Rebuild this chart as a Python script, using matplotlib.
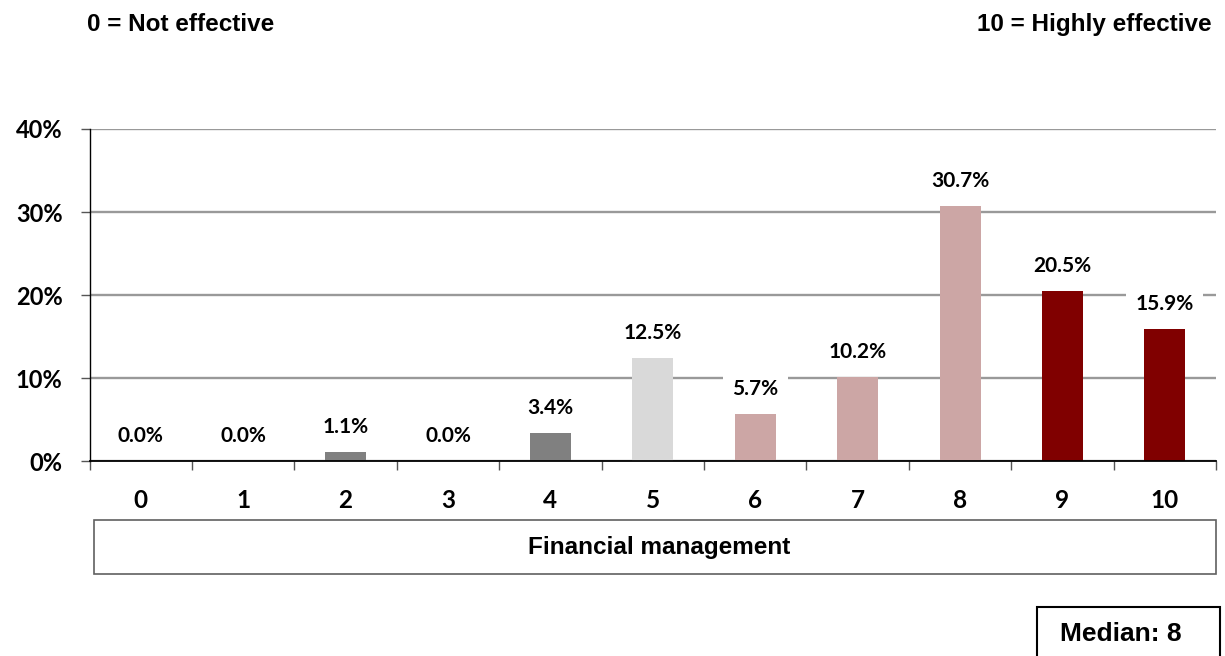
import matplotlib
matplotlib.use("Agg")
import matplotlib.pyplot as plt
from matplotlib.patches import Rectangle
import numpy as np

scores = ["0", "1", "2", "3", "4", "5", "6", "7", "8", "9", "10"]
shares = [0.0, 0.0, 1.1, 0.0, 3.4, 12.5, 5.7, 10.2, 30.7, 20.5, 15.9]
bar_colors = ["#808080"] * 5 + ["#D9D9D9"] + ["#CCA6A5"] * 3 + ["#800000"] * 2
y_ticks = [0, 10, 20, 30, 40]
group_label = "Financial management"
low_label = "0 = Not effective"
high_label = "10 = Highly effective"
median_text = "Median: 8"

num_font = "Lato"
txt_font = "Liberation Sans"

fig = plt.figure(figsize=(12.25, 6.56), dpi=100)
ax = fig.add_axes([0.0731, 0.2965, 0.9196, 0.5069])

x = np.arange(len(scores))
bars = ax.bar(x, shares, width=0.4, color=bar_colors, zorder=3)

ax.set_xlim(-0.5, len(scores) - 0.5)
ax.set_ylim(0, 40)
ax.set_yticks(y_ticks)
ax.set_yticklabels(["{}%".format(t) for t in y_ticks],
                   fontfamily=num_font, fontweight="bold", fontsize=17)
ax.set_xticks(x)
ax.set_xticklabels(scores, fontfamily=num_font, fontweight="bold", fontsize=17.5)
ax.set_xticks(np.arange(len(scores) + 1) - 0.5, minor=True)

ax.tick_params(axis="x", which="major", length=0, pad=20)
ax.tick_params(axis="x", which="minor", length=6.5, width=1, color="#555555", direction="out")
ax.tick_params(axis="y", which="major", length=6.5, width=1, color="#555555", direction="out", pad=13)

ax.yaxis.grid(True, color="#999999", linewidth=1.7, zorder=0)
ax.set_axisbelow(True)
for side in ["top", "right"]:
    ax.spines[side].set_visible(False)
ax.spines["left"].set_color("black")
ax.spines["left"].set_linewidth(1.0)
ax.spines["bottom"].set_color("black")
ax.spines["bottom"].set_linewidth(1.3)
ax.spines["bottom"].set_zorder(4)

for b, v in zip(bars, shares):
    ax.annotate("{:.1f}%".format(v), (b.get_x() + b.get_width() / 2, v),
                xytext=(0, 18), textcoords="offset points", ha="center", va="center",
                fontfamily=num_font, fontweight="bold", fontsize=15, zorder=5,
                bbox=dict(boxstyle="square,pad=0.45", facecolor="white", edgecolor="none"))

# headers
fig.text(0.0710, 0.9527, low_label, ha="left", va="baseline",
         fontfamily=txt_font, fontweight="bold", fontsize=17.5)
fig.text(0.9894, 0.9527, high_label, ha="right", va="baseline",
         fontfamily=txt_font, fontweight="bold", fontsize=17.5)

# category box
fig.patches.append(Rectangle((94 / 1225, 82 / 656), 1122 / 1225, 54 / 656,
                             transform=fig.transFigure, facecolor="white",
                             edgecolor="#606060", linewidth=1.2))
fig.text(0.5384, 0.1555, group_label, ha="center", va="baseline",
         fontfamily=txt_font, fontweight="bold", fontsize=17.5)

# median box
fig.patches.append(Rectangle((1037 / 1225, -0.05), 183 / 1225, 49 / 656 + 0.05,
                             transform=fig.transFigure, facecolor="white",
                             edgecolor="black", linewidth=1.5))
fig.text(0.9151, 0.0229, median_text, ha="center", va="baseline",
         fontfamily=txt_font, fontweight="bold", fontsize=19)

fig.savefig("out.png", dpi=100)
